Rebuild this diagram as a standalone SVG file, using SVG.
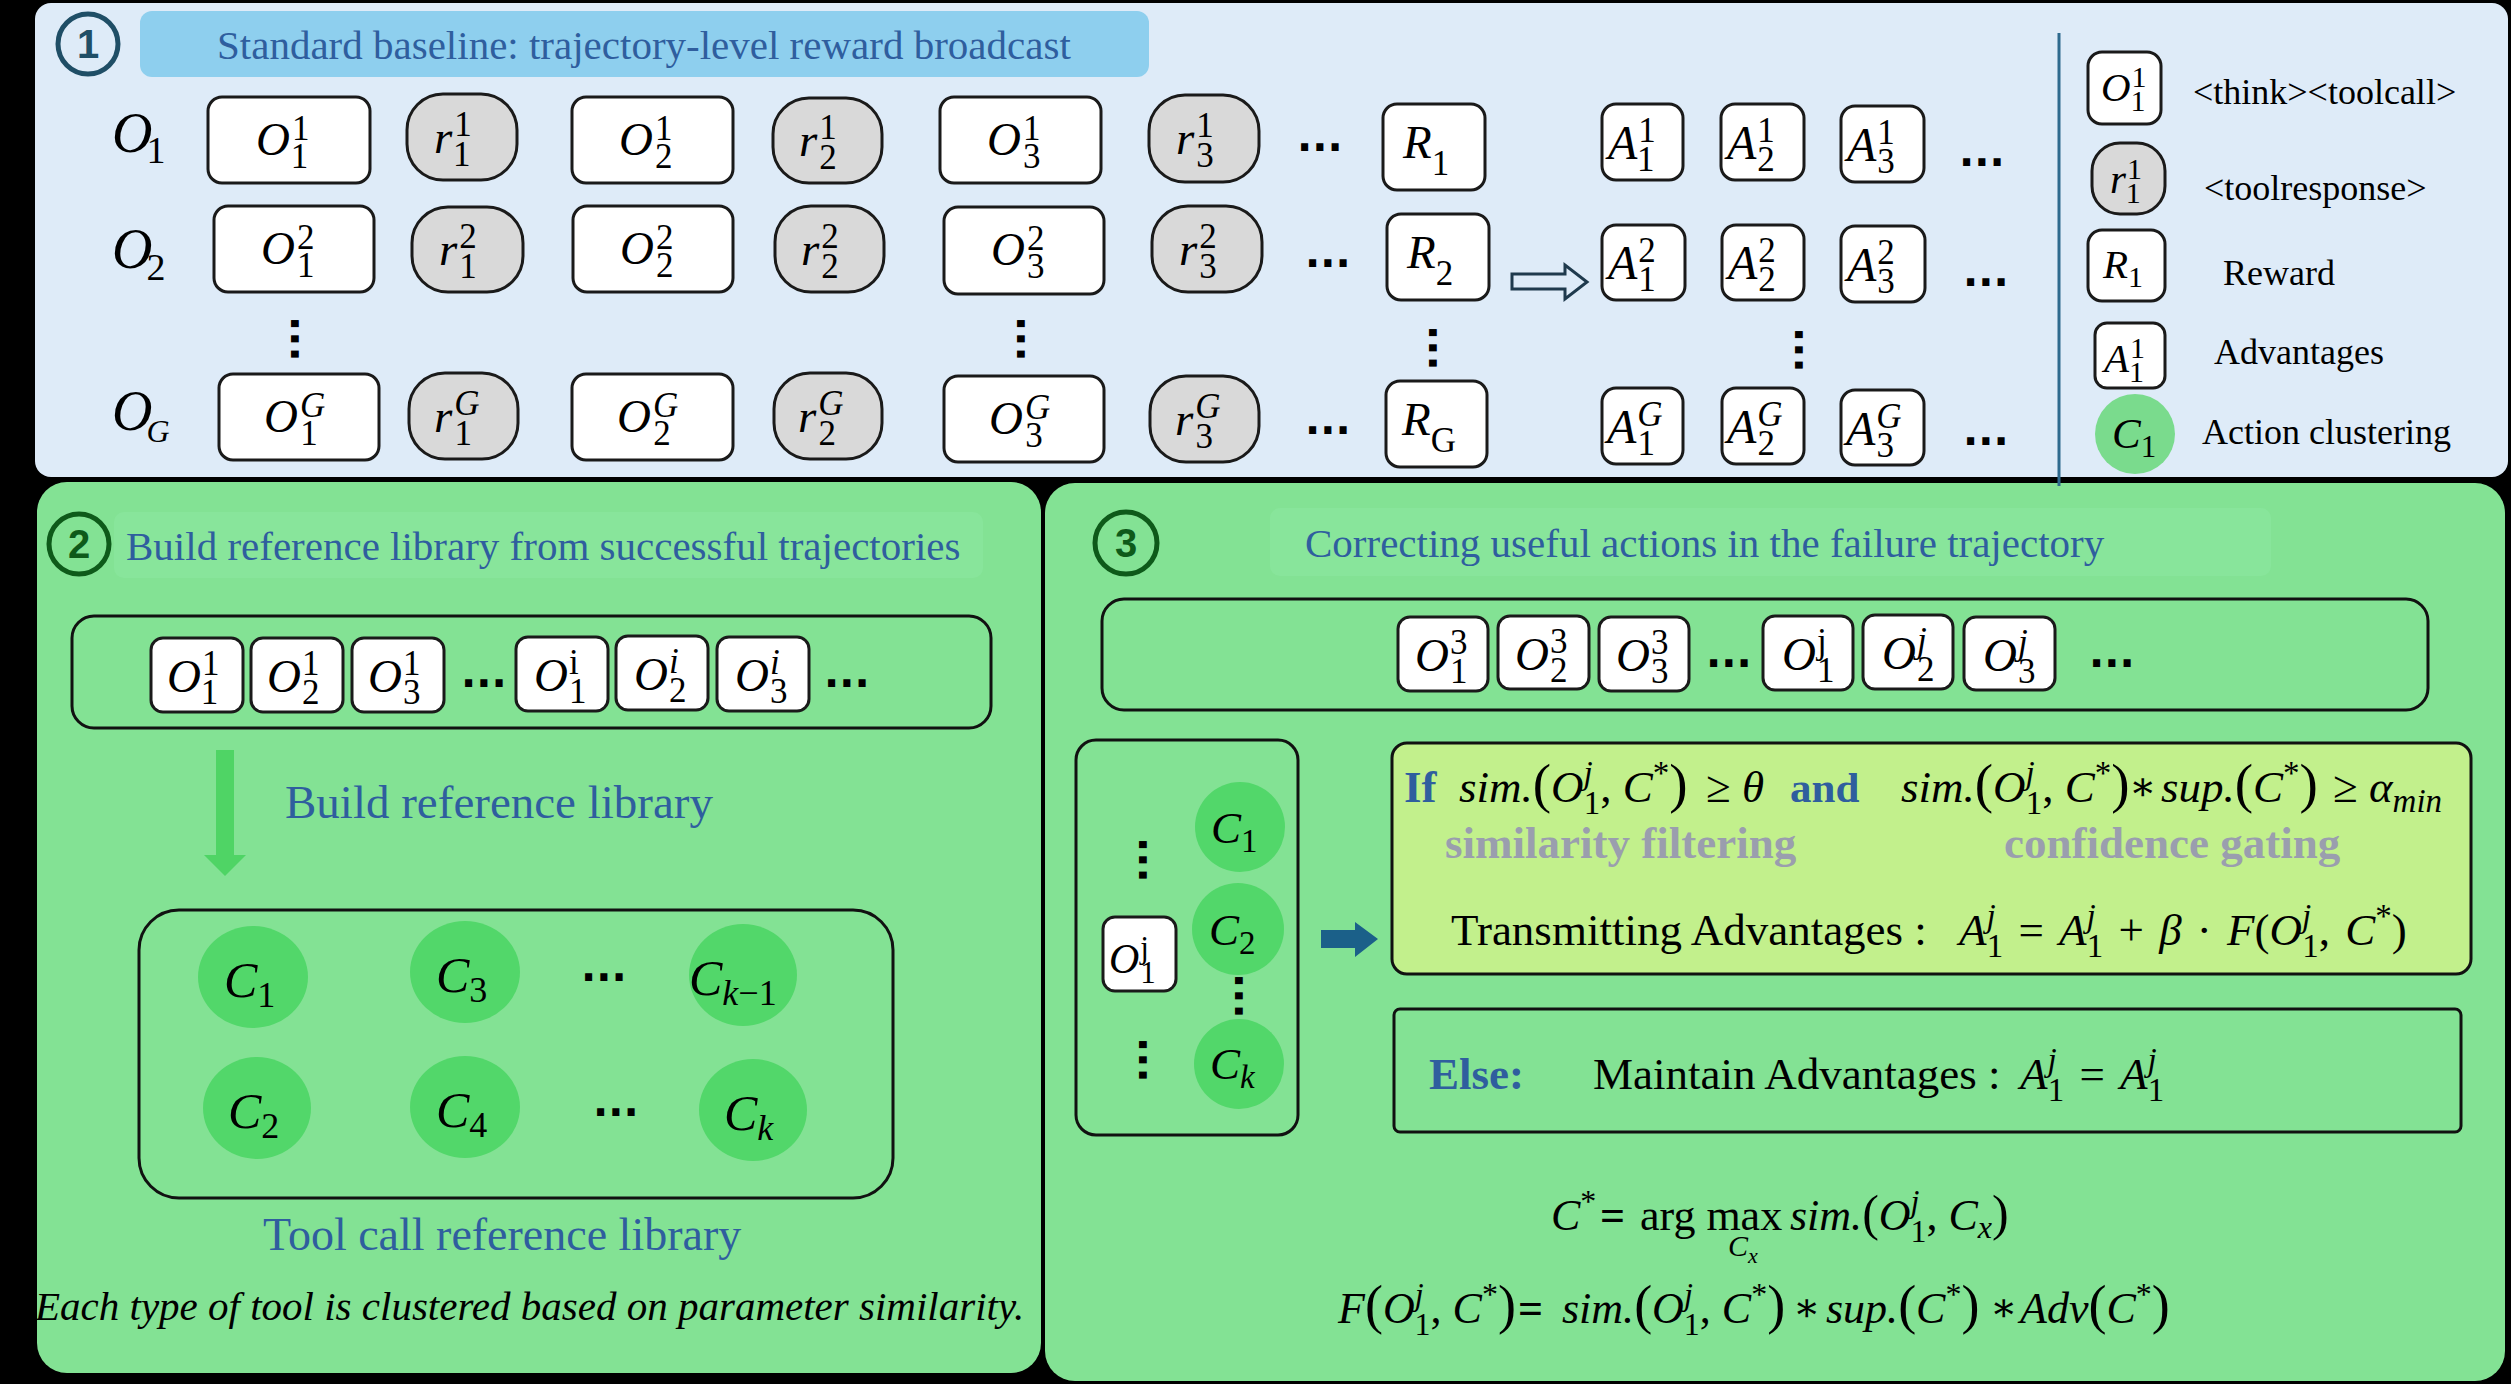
<svg xmlns="http://www.w3.org/2000/svg" width="2511" height="1384" viewBox="0 0 2511 1384">
<defs>
<style>
.f{font-family:"Liberation Serif","DejaVu Serif",serif;fill:#000}
.i{font-style:italic}
.n{font-style:normal}
.b{font-weight:bold}
.bx{fill:#fff;stroke:#1a1a1a;stroke-width:3}
.gb{fill:#D9D9D9;stroke:#1a1a1a;stroke-width:3}
.ct{fill:none;stroke:#111;stroke-width:3}
.dt{font-family:"DejaVu Sans",sans-serif;font-weight:bold;font-size:40px;fill:#000}
.ttl{font-family:"Liberation Serif",serif;fill:#2F5E9E}
.gry{font-family:"Liberation Serif",serif;fill:#9A9EAE;font-weight:bold}
.num{font-family:"Liberation Sans",sans-serif;font-weight:bold;text-anchor:middle}
.cl{fill:#52D76A}
</style>
</defs>
<rect width="2511" height="1384" fill="#000"/>

<!-- Panel backgrounds -->
<g id="panel1">
<rect x="35" y="3" width="2473" height="474" rx="16" fill="#DEEBF8"/>
<circle cx="88" cy="44" r="30" fill="none" stroke="#1F4E66" stroke-width="5"/>
<text class="num" x="88" y="58" font-size="40" fill="#1F4E66">1</text>
<rect x="140" y="11" width="1009" height="66" rx="12" fill="#8ECFEE"/>
<text class="ttl" x="217" y="59" font-size="41">Standard baseline: trajectory-level reward broadcast</text>
</g>
<g id="panel2">
<rect x="37" y="482" width="1004" height="891" rx="30" fill="#83E294"/>
<rect x="114" y="512" width="869" height="66" rx="10" fill="#88E59B"/>
<circle cx="79" cy="544" r="30" fill="none" stroke="#0E5A1A" stroke-width="5"/>
<text class="num" x="79" y="558" font-size="40" fill="#0E5A1A">2</text>
<text class="ttl" x="126" y="560" font-size="41">Build reference library from successful trajectories</text>
<rect class="ct" x="72" y="616" width="919" height="112" rx="22"/>
<text class="ttl" x="285" y="818" font-size="47">Build reference library</text>
<rect class="ct" x="139" y="910" width="754" height="288" rx="40"/>
<text class="ttl" x="263" y="1250" font-size="46">Tool call reference library</text>
<text class="f i" x="35" y="1320" font-size="41">Each type of tool is clustered based on parameter similarity.</text>
</g>
<g id="panel3">
<rect x="1045" y="483" width="1460" height="898" rx="30" fill="#83E294"/>
<rect x="1270" y="508" width="1001" height="68" rx="10" fill="#88E59B"/>
<circle cx="1126" cy="543" r="31" fill="none" stroke="#0E5A1A" stroke-width="5"/>
<text class="num" x="1126" y="557" font-size="40" fill="#0E5A1A">3</text>
<text class="ttl" x="1305" y="557" font-size="41">Correcting useful actions in the failure trajectory</text>
<rect class="ct" x="1102" y="599" width="1326" height="111" rx="22"/>
</g>

<g id="row-labels">
<text class="f i" x="112" y="152" font-size="56">O<tspan class="n" font-size="38" dx="-6" dy="11">1</tspan></text>
<text class="f i" x="112" y="268" font-size="56">O<tspan class="n" font-size="38" dx="-6" dy="12">2</tspan></text>
<text class="f i" x="112" y="430" font-size="56">O<tspan font-size="32" dx="-6" dy="12">G</tspan></text>
</g>

<!-- Row 1 -->
<g id="o11"><rect class="bx" x="208" y="97" width="162" height="86" rx="14"/><text class="f i" x="256" y="155" font-size="47">O<tspan class="n" font-size="35" dx="2" dy="-15">1</tspan><tspan class="n" font-size="35" dx="-17.5" dy="28">1</tspan></text></g>
<g id="r11"><rect class="gb" x="407" y="94" width="110" height="86" rx="36"/><text class="f i" x="434" y="153" font-size="47">r<tspan class="n" font-size="35" dx="2" dy="-17">1</tspan><tspan class="n" font-size="35" dx="-17.5" dy="30">1</tspan></text></g>
<g id="o21"><rect class="bx" x="572" y="97" width="161" height="86" rx="14"/><text class="f i" x="619" y="155" font-size="47">O<tspan class="n" font-size="35" dx="2" dy="-15">1</tspan><tspan class="n" font-size="35" dx="-17.5" dy="28">2</tspan></text></g>
<g id="r21"><rect class="gb" x="773" y="98" width="109" height="85" rx="36"/><text class="f i" x="799" y="156" font-size="47">r<tspan class="n" font-size="35" dx="2" dy="-17">1</tspan><tspan class="n" font-size="35" dx="-17.5" dy="30">2</tspan></text></g>
<g id="o31"><rect class="bx" x="940" y="97" width="161" height="86" rx="14"/><text class="f i" x="987" y="155" font-size="47">O<tspan class="n" font-size="35" dx="2" dy="-15">1</tspan><tspan class="n" font-size="35" dx="-17.5" dy="28">3</tspan></text></g>
<g id="r31"><rect class="gb" x="1149" y="95" width="110" height="87" rx="36"/><text class="f i" x="1176" y="154" font-size="47">r<tspan class="n" font-size="35" dx="2" dy="-17">1</tspan><tspan class="n" font-size="35" dx="-17.5" dy="30">3</tspan></text></g>
<text class="dt" x="1297" y="151">...</text>
<g id="R1"><rect class="bx" x="1383" y="104" width="102" height="86" rx="14"/><text class="f i" x="1403" y="158" font-size="47">R<tspan class="n" font-size="35" dy="17">1</tspan></text></g>
<g id="A11"><rect class="bx" x="1602" y="104" width="81" height="76" rx="14"/><text class="f i" x="1608" y="159" font-size="48">A<tspan class="n" font-size="35" dx="1" dy="-17">1</tspan><tspan class="n" font-size="35" dx="-17.5" dy="29">1</tspan></text></g>
<g id="A21"><rect class="bx" x="1721" y="104" width="83" height="76" rx="14"/><text class="f i" x="1727" y="159" font-size="48">A<tspan class="n" font-size="35" dx="1" dy="-17">1</tspan><tspan class="n" font-size="35" dx="-17.5" dy="29">2</tspan></text></g>
<g id="A31"><rect class="bx" x="1841" y="106" width="83" height="76" rx="14"/><text class="f i" x="1847" y="161" font-size="48">A<tspan class="n" font-size="35" dx="1" dy="-17">1</tspan><tspan class="n" font-size="35" dx="-17.5" dy="29">3</tspan></text></g>
<text class="dt" x="1959" y="166">...</text>

<!-- Row 2 -->
<g id="o12"><rect class="bx" x="214" y="206" width="160" height="86" rx="14"/><text class="f i" x="261" y="264" font-size="47">O<tspan class="n" font-size="35" dx="2" dy="-15">2</tspan><tspan class="n" font-size="35" dx="-17.5" dy="28">1</tspan></text></g>
<g id="r12"><rect class="gb" x="412" y="207" width="111" height="85" rx="36"/><text class="f i" x="439" y="265" font-size="47">r<tspan class="n" font-size="35" dx="2" dy="-17">2</tspan><tspan class="n" font-size="35" dx="-17.5" dy="30">1</tspan></text></g>
<g id="o22"><rect class="bx" x="573" y="206" width="160" height="86" rx="14"/><text class="f i" x="620" y="264" font-size="47">O<tspan class="n" font-size="35" dx="2" dy="-15">2</tspan><tspan class="n" font-size="35" dx="-17.5" dy="28">2</tspan></text></g>
<g id="r22"><rect class="gb" x="775" y="206" width="109" height="86" rx="36"/><text class="f i" x="801" y="265" font-size="47">r<tspan class="n" font-size="35" dx="2" dy="-17">2</tspan><tspan class="n" font-size="35" dx="-17.5" dy="30">2</tspan></text></g>
<g id="o32"><rect class="bx" x="944" y="207" width="160" height="87" rx="14"/><text class="f i" x="991" y="265" font-size="47">O<tspan class="n" font-size="35" dx="2" dy="-15">2</tspan><tspan class="n" font-size="35" dx="-17.5" dy="28">3</tspan></text></g>
<g id="r32"><rect class="gb" x="1152" y="206" width="110" height="86" rx="36"/><text class="f i" x="1179" y="265" font-size="47">r<tspan class="n" font-size="35" dx="2" dy="-17">2</tspan><tspan class="n" font-size="35" dx="-17.5" dy="30">3</tspan></text></g>
<text class="dt" x="1305" y="267">...</text>
<g id="R2"><rect class="bx" x="1387" y="214" width="102" height="86" rx="14"/><text class="f i" x="1407" y="268" font-size="47">R<tspan class="n" font-size="35" dy="17">2</tspan></text></g>
<g id="A12"><rect class="bx" x="1602" y="225" width="83" height="75" rx="14"/><text class="f i" x="1608" y="279" font-size="48">A<tspan class="n" font-size="35" dx="1" dy="-17">2</tspan><tspan class="n" font-size="35" dx="-17.5" dy="29">1</tspan></text></g>
<g id="A22"><rect class="bx" x="1722" y="225" width="82" height="75" rx="14"/><text class="f i" x="1728" y="279" font-size="48">A<tspan class="n" font-size="35" dx="1" dy="-17">2</tspan><tspan class="n" font-size="35" dx="-17.5" dy="29">2</tspan></text></g>
<g id="A32"><rect class="bx" x="1841" y="226" width="84" height="76" rx="14"/><text class="f i" x="1847" y="281" font-size="48">A<tspan class="n" font-size="35" dx="1" dy="-17">2</tspan><tspan class="n" font-size="35" dx="-17.5" dy="29">3</tspan></text></g>
<text class="dt" x="1963" y="286">...</text>

<!-- Row G -->
<g id="o1G"><rect class="bx" x="219" y="374" width="160" height="86" rx="14"/><text class="f i" x="264" y="432" font-size="47">O<tspan font-size="35" dx="2" dy="-15">G</tspan><tspan class="n" font-size="35" dx="-25" dy="28">1</tspan></text></g>
<g id="r1G"><rect class="gb" x="409" y="373" width="109" height="86" rx="36"/><text class="f i" x="434" y="432" font-size="47">r<tspan font-size="35" dx="2" dy="-17">G</tspan><tspan class="n" font-size="35" dx="-25" dy="30">1</tspan></text></g>
<g id="o2G"><rect class="bx" x="572" y="374" width="161" height="86" rx="14"/><text class="f i" x="617" y="432" font-size="47">O<tspan font-size="35" dx="2" dy="-15">G</tspan><tspan class="n" font-size="35" dx="-25" dy="28">2</tspan></text></g>
<g id="r2G"><rect class="gb" x="774" y="373" width="108" height="86" rx="36"/><text class="f i" x="798" y="432" font-size="47">r<tspan font-size="35" dx="2" dy="-17">G</tspan><tspan class="n" font-size="35" dx="-25" dy="30">2</tspan></text></g>
<g id="o3G"><rect class="bx" x="944" y="376" width="160" height="86" rx="14"/><text class="f i" x="989" y="434" font-size="47">O<tspan font-size="35" dx="2" dy="-15">G</tspan><tspan class="n" font-size="35" dx="-25" dy="28">3</tspan></text></g>
<g id="r3G"><rect class="gb" x="1150" y="376" width="109" height="86" rx="36"/><text class="f i" x="1175" y="435" font-size="47">r<tspan font-size="35" dx="2" dy="-17">G</tspan><tspan class="n" font-size="35" dx="-25" dy="30">3</tspan></text></g>
<text class="dt" x="1305" y="434">...</text>
<g id="RG"><rect class="bx" x="1386" y="381" width="101" height="86" rx="14"/><text class="f i" x="1402" y="435" font-size="47">R<tspan class="n" font-size="35" dy="17">G</tspan></text></g>
<g id="A1G"><rect class="bx" x="1602" y="388" width="81" height="76" rx="14"/><text class="f i" x="1607" y="443" font-size="48">A<tspan font-size="35" dx="1" dy="-17">G</tspan><tspan class="n" font-size="35" dx="-25" dy="29">1</tspan></text></g>
<g id="A2G"><rect class="bx" x="1722" y="388" width="82" height="76" rx="14"/><text class="f i" x="1727" y="443" font-size="48">A<tspan font-size="35" dx="1" dy="-17">G</tspan><tspan class="n" font-size="35" dx="-25" dy="29">2</tspan></text></g>
<g id="A3G"><rect class="bx" x="1841" y="390" width="83" height="75" rx="14"/><text class="f i" x="1846" y="445" font-size="48">A<tspan font-size="35" dx="1" dy="-17">G</tspan><tspan class="n" font-size="35" dx="-25" dy="29">3</tspan></text></g>
<text class="dt" x="1963" y="445">...</text>

<g id="vdots1">
<text class="dt" transform="translate(291,316) rotate(90)">...</text>
<text class="dt" transform="translate(1017,316) rotate(90)">...</text>
<text class="dt" transform="translate(1429,325) rotate(90)">...</text>
<text class="dt" transform="translate(1795,327) rotate(90)">...</text>
</g>

<!-- Legend -->
<g id="legend">
<line x1="2059" y1="33" x2="2059" y2="486" stroke="#2E6A8E" stroke-width="3"/>
<rect class="bx" x="2088" y="52" width="73" height="72" rx="14"/>
<text class="f i" x="2101" y="101" font-size="41">O<tspan class="n" font-size="30" dx="1" dy="-14">1</tspan><tspan class="n" font-size="30" dx="-15" dy="24">1</tspan></text>
<text class="f" x="2193" y="104" font-size="36">&lt;think&gt;&lt;toolcall&gt;</text>
<rect class="gb" x="2092" y="143" width="73" height="71" rx="28"/>
<text class="f i" x="2110" y="193" font-size="41">r<tspan class="n" font-size="30" dx="1" dy="-14">1</tspan><tspan class="n" font-size="30" dx="-15" dy="24">1</tspan></text>
<text class="f" x="2204" y="200" font-size="36">&lt;toolresponse&gt;</text>
<rect class="bx" x="2088" y="230" width="77" height="71" rx="14"/>
<text class="f i" x="2103" y="278" font-size="41">R<tspan class="n" font-size="30" dy="9">1</tspan></text>
<text class="f" x="2223" y="285" font-size="36">Reward</text>
<rect class="bx" x="2095" y="323" width="70" height="65" rx="12"/>
<text class="f i" x="2104" y="372" font-size="41">A<tspan class="n" font-size="30" dx="1" dy="-14">1</tspan><tspan class="n" font-size="30" dx="-15" dy="24">1</tspan></text>
<text class="f" x="2214" y="364" font-size="36">Advantages</text>
<circle cx="2135" cy="434" r="40" fill="#7ADB8D"/>
<text class="f i" x="2112" y="448" font-size="43">C<tspan class="n" font-size="31" dy="9">1</tspan></text>
<text class="f" x="2202" y="444" font-size="36">Action clustering</text>
</g>

<g id="seq2">
<g id="s2-o11"><rect class="bx" x="151" y="638" width="92" height="74" rx="12"/><text class="f i" x="167" y="692" font-size="47">O<tspan class="n" font-size="35" dx="1" dy="-17">1</tspan><tspan class="n" font-size="35" dx="-17.5" dy="29">1</tspan></text></g>
<g id="s2-o21"><rect class="bx" x="251" y="638" width="92" height="74" rx="12"/><text class="f i" x="267" y="692" font-size="47">O<tspan class="n" font-size="35" dx="1" dy="-17">1</tspan><tspan class="n" font-size="35" dx="-17.5" dy="29">2</tspan></text></g>
<g id="s2-o31"><rect class="bx" x="352" y="638" width="92" height="74" rx="12"/><text class="f i" x="368" y="692" font-size="47">O<tspan class="n" font-size="35" dx="1" dy="-17">1</tspan><tspan class="n" font-size="35" dx="-17.5" dy="29">3</tspan></text></g>
<text class="dt" x="461" y="687">...</text>
<g id="s2-o1i"><rect class="bx" x="516" y="637" width="92" height="74" rx="12"/><text class="f i" x="534" y="691" font-size="47">O<tspan class="n" font-size="35" dx="1" dy="-17">i</tspan><tspan class="n" font-size="35" dx="-9.7" dy="29">1</tspan></text></g>
<g id="s2-o2i"><rect class="bx" x="616" y="636" width="92" height="74" rx="12"/><text class="f i" x="634" y="690" font-size="47">O<tspan font-size="35" dx="1" dy="-17">i</tspan><tspan class="n" font-size="35" dx="-9.7" dy="29">2</tspan></text></g>
<g id="s2-o3i"><rect class="bx" x="717" y="637" width="92" height="74" rx="12"/><text class="f i" x="735" y="691" font-size="47">O<tspan font-size="35" dx="1" dy="-17">i</tspan><tspan class="n" font-size="35" dx="-9.7" dy="29">3</tspan></text></g>
<text class="dt" x="824" y="687">...</text>
</g>

<g id="clusters2">
<g id="c1"><ellipse class="cl" cx="253" cy="977" rx="55" ry="51"/><text class="f i" x="224" y="997" font-size="50">C<tspan class="n" font-size="36" dy="10">1</tspan></text></g>
<g id="c3"><ellipse class="cl" cx="465" cy="972" rx="55" ry="51"/><text class="f i" x="436" y="992" font-size="50">C<tspan class="n" font-size="36" dy="10">3</tspan></text></g>
<g id="ck1"><ellipse class="cl" cx="743" cy="975" rx="54" ry="51"/><text class="f i" x="689" y="995" font-size="50">C<tspan font-size="36" dy="10">k</tspan><tspan class="n" font-size="36">−1</tspan></text></g>
<text class="dt" x="581" y="981">...</text>
<g id="c2"><ellipse class="cl" cx="257" cy="1108" rx="54" ry="51"/><text class="f i" x="228" y="1128" font-size="50">C<tspan class="n" font-size="36" dy="10">2</tspan></text></g>
<g id="c4"><ellipse class="cl" cx="465" cy="1107" rx="55" ry="51"/><text class="f i" x="436" y="1127" font-size="50">C<tspan class="n" font-size="36" dy="10">4</tspan></text></g>
<g id="ck"><ellipse class="cl" cx="753" cy="1110" rx="54" ry="51"/><text class="f i" x="724" y="1130" font-size="50">C<tspan font-size="36" dy="10">k</tspan></text></g>
<text class="dt" x="593" y="1116">...</text>
</g>

<g id="seq3">
<g id="s3-o13"><rect class="bx" x="1398" y="617" width="90" height="74" rx="12"/><text class="f i" x="1415" y="671" font-size="47">O<tspan class="n" font-size="35" dx="1" dy="-17">3</tspan><tspan class="n" font-size="35" dx="-17.5" dy="29">1</tspan></text></g>
<g id="s3-o23"><rect class="bx" x="1498" y="616" width="91" height="73" rx="12"/><text class="f i" x="1515" y="670" font-size="47">O<tspan class="n" font-size="35" dx="1" dy="-17">3</tspan><tspan class="n" font-size="35" dx="-17.5" dy="29">2</tspan></text></g>
<g id="s3-o33"><rect class="bx" x="1599" y="617" width="90" height="74" rx="12"/><text class="f i" x="1616" y="671" font-size="47">O<tspan class="n" font-size="35" dx="1" dy="-17">3</tspan><tspan class="n" font-size="35" dx="-17.5" dy="29">3</tspan></text></g>
<text class="dt" x="1706" y="667">...</text>
<g id="s3-o1j"><rect class="bx" x="1763" y="616" width="90" height="74" rx="12"/><text class="f i" x="1782" y="670" font-size="47">O<tspan class="n" font-size="35" dx="1" dy="-17">j</tspan><tspan class="n" font-size="35" dx="-9.7" dy="29">1</tspan></text></g>
<g id="s3-o2j"><rect class="bx" x="1863" y="615" width="90" height="74" rx="12"/><text class="f i" x="1882" y="669" font-size="47">O<tspan font-size="35" dx="1" dy="-17">j</tspan><tspan class="n" font-size="35" dx="-9.7" dy="29">2</tspan></text></g>
<g id="s3-o3j"><rect class="bx" x="1964" y="617" width="91" height="73" rx="12"/><text class="f i" x="1983" y="671" font-size="47">O<tspan font-size="35" dx="1" dy="-17">j</tspan><tspan class="n" font-size="35" dx="-9.7" dy="29">3</tspan></text></g>
<text class="dt" x="2089" y="667">...</text>
</g>

<g id="cand">
<rect class="ct" x="1076" y="740" width="222" height="395" rx="20"/>
<g id="p3-c1"><circle class="cl" cx="1240" cy="827" r="45"/><text class="f i" x="1211" y="843" font-size="45">C<tspan class="n" font-size="33" dy="9">1</tspan></text></g>
<g id="p3-c2"><circle class="cl" cx="1238" cy="929" r="46"/><text class="f i" x="1209" y="945" font-size="45">C<tspan class="n" font-size="33" dy="9">2</tspan></text></g>
<g id="p3-ck"><circle class="cl" cx="1239" cy="1064" r="45"/><text class="f i" x="1210" y="1079" font-size="45">C<tspan font-size="33" dy="9">k</tspan></text></g>
<text class="dt" transform="translate(1139,837) rotate(90)">...</text>
<text class="dt" transform="translate(1139,1037) rotate(90)">...</text>
<text class="dt" transform="translate(1235,973) rotate(90)">...</text>
<g id="p3-o1j"><rect class="bx" x="1103" y="917" width="73" height="74" rx="12"/><text class="f i" x="1109" y="973" font-size="42">O<tspan class="n" font-size="31" dx="1" dy="-15">j</tspan><tspan class="n" font-size="31" dx="-8.6" dy="25">1</tspan></text></g>
</g>

<g id="if-box">
<rect x="1392" y="743" width="1079" height="231" rx="15" fill="#C2F08C" stroke="#111" stroke-width="3"/>
<text class="ttl b" x="1404" y="802" font-size="45">If</text>
<text class="f" x="1459" y="802" font-size="45"><tspan class="i">sim.</tspan><tspan font-size="55">(</tspan><tspan class="i">O</tspan><tspan class="i" font-size="33" dy="-18">j</tspan><tspan font-size="33" dx="-9" dy="30">1</tspan><tspan dy="-12">, </tspan><tspan class="i">C</tspan><tspan font-size="33" dy="-18">*</tspan><tspan font-size="55" dy="18">)</tspan></text>
<text class="f" x="1706" y="802" font-size="45">≥ <tspan class="i">θ</tspan></text>
<text class="ttl b" x="1790" y="802" font-size="43">and</text>
<text class="f" x="1901" y="802" font-size="45"><tspan class="i">sim.</tspan><tspan font-size="55">(</tspan><tspan class="i">O</tspan><tspan class="i" font-size="33" dy="-18">j</tspan><tspan font-size="33" dx="-9" dy="30">1</tspan><tspan dy="-12">, </tspan><tspan class="i">C</tspan><tspan font-size="33" dy="-18">*</tspan><tspan font-size="55" dy="18">)</tspan></text>
<text class="f" x="2129" y="800" font-size="40">∗</text>
<text class="f" x="2161" y="802" font-size="45"><tspan class="i">sup.</tspan><tspan font-size="55">(</tspan><tspan class="i">C</tspan><tspan font-size="33" dy="-18">*</tspan><tspan font-size="55" dy="18">)</tspan></text>
<text class="f" x="2333" y="802" font-size="45">≥ <tspan class="i">α</tspan><tspan class="i" font-size="33" dy="10">min</tspan></text>
<text class="gry" x="1445" y="858" font-size="45">similarity filtering</text>
<text class="gry" x="2004" y="858" font-size="45">confidence gating</text>
<text class="f" x="1451" y="945" font-size="45">Transmitting Advantages :</text>
<text class="f" x="1959" y="945" font-size="45" word-spacing="4"><tspan class="i">A</tspan><tspan class="i" font-size="33" dy="-18">j</tspan><tspan font-size="33" dx="-9" dy="30">1</tspan><tspan dy="-12"> = </tspan><tspan class="i">A</tspan><tspan class="i" font-size="33" dy="-18">j</tspan><tspan font-size="33" dx="-9" dy="30">1</tspan><tspan dy="-12"> + </tspan><tspan class="i">β</tspan> · <tspan class="i">F</tspan>(<tspan class="i">O</tspan><tspan class="i" font-size="33" dy="-18">j</tspan><tspan font-size="33" dx="-9" dy="30">1</tspan><tspan dy="-12">, </tspan><tspan class="i">C</tspan><tspan font-size="33" dy="-18">*</tspan><tspan dy="18">)</tspan></text>
</g>

<g id="else-box">
<rect x="1394" y="1009" width="1067" height="123" rx="6" fill="none" stroke="#111" stroke-width="3"/>
<text class="ttl b" x="1429" y="1089" font-size="45">Else:</text>
<text class="f" x="1593" y="1089" font-size="45">Maintain Advantages :</text>
<text class="f" x="2020" y="1089" font-size="45" word-spacing="4"><tspan class="i">A</tspan><tspan class="i" font-size="33" dy="-18">j</tspan><tspan font-size="33" dx="-9" dy="30">1</tspan><tspan dy="-12"> = </tspan><tspan class="i">A</tspan><tspan class="i" font-size="33" dy="-18">j</tspan><tspan font-size="33" dx="-9" dy="30">1</tspan></text>
</g>

<g id="formulas">
<text class="f" x="1551" y="1230" font-size="44"><tspan class="i">C</tspan><tspan font-size="32" dy="-18">*</tspan></text>
<text class="f b" x="1600" y="1230" font-size="44">=</text>
<text class="f" x="1640" y="1230" font-size="44">arg max</text>
<text class="f i" x="1728" y="1256" font-size="30">C<tspan font-size="22" dy="7">x</tspan></text>
<text class="f" x="1790" y="1230" font-size="44"><tspan class="i">sim.</tspan><tspan font-size="50">(</tspan><tspan class="i">O</tspan><tspan class="i" font-size="32" dy="-18">j</tspan><tspan font-size="32" dx="-9" dy="30">1</tspan><tspan dy="-12">, </tspan><tspan class="i">C</tspan><tspan class="i" font-size="32" dy="8">x</tspan><tspan font-size="50" dy="-8">)</tspan></text>
<text class="f" x="1338" y="1323" font-size="44"><tspan class="i">F</tspan><tspan font-size="54">(</tspan><tspan class="i">O</tspan><tspan class="i" font-size="32" dy="-18">j</tspan><tspan font-size="32" dx="-9" dy="30">1</tspan><tspan dy="-12">, </tspan><tspan class="i">C</tspan><tspan font-size="32" dy="-18">*</tspan><tspan font-size="54" dy="18">)</tspan></text>
<text class="f b" x="1518" y="1323" font-size="44">=</text>
<text class="f" x="1562" y="1323" font-size="44"><tspan class="i">sim.</tspan><tspan font-size="54">(</tspan><tspan class="i">O</tspan><tspan class="i" font-size="32" dy="-18">j</tspan><tspan font-size="32" dx="-9" dy="30">1</tspan><tspan dy="-12">, </tspan><tspan class="i">C</tspan><tspan font-size="32" dy="-18">*</tspan><tspan font-size="54" dy="18">)</tspan></text>
<text class="f" x="1793" y="1321" font-size="40">∗</text>
<text class="f" x="1826" y="1323" font-size="44"><tspan class="i">sup.</tspan><tspan font-size="54">(</tspan><tspan class="i">C</tspan><tspan font-size="32" dy="-18">*</tspan><tspan font-size="54" dy="18">)</tspan></text>
<text class="f" x="1990" y="1321" font-size="40">∗</text>
<text class="f" x="2020" y="1323" font-size="44"><tspan class="i">Adv</tspan><tspan font-size="54">(</tspan><tspan class="i">C</tspan><tspan font-size="32" dy="-18">*</tspan><tspan font-size="54" dy="18">)</tspan></text>
</g>

<g id="connectors">
<path d="M1512,274 H1565 V265 L1587,282 L1565,299 V289 H1512 Z" fill="none" stroke="#1F3A4D" stroke-width="3" stroke-linejoin="miter"/>
<path d="M216,750 H234 V855 H246 L225,876 L204,855 H216 Z" fill="#4FD465"/>
<path d="M1321,930 H1355 V922 L1378,939 L1355,957 V948 H1321 Z" fill="#1B6089"/>
</g>
</svg>
